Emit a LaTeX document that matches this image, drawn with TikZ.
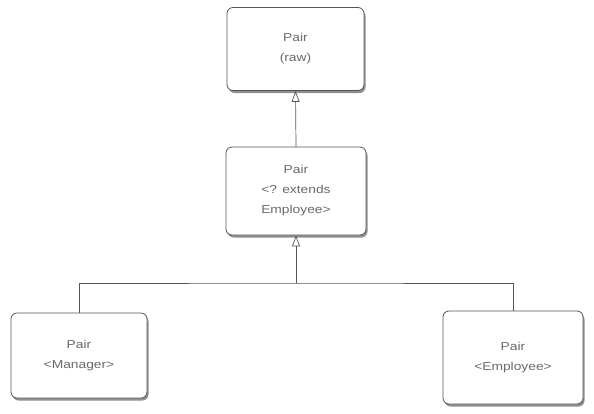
\documentclass[tikz,border=0pt]{standalone}
\usepackage{fontspec}
\setmainfont{Liberation Sans}[FakeStretch=1.2]
\usetikzlibrary{arrows.meta,shadows}
\definecolor{txt}{HTML}{6A6A6A}
\definecolor{ln}{HTML}{555555}
\begin{document}
\begin{tikzpicture}[x=1pt,y=-1pt,
  box/.style={draw=ln, line width=0.8pt, fill=white, rounded corners=6pt,
    drop shadow={shadow xshift=1.5pt, shadow yshift=-2.5pt, fill=black!55, opacity=0.8},
    align=center, text=txt, font=\fontsize{11.5}{20}\selectfont, inner sep=0pt},
  conn/.style={draw=ln, line width=0.7pt},
  inh/.style={conn, -{Triangle[open, width=8pt, length=11pt]}}]
\useasboundingbox (0,0) rectangle (594,413);
\node[box, minimum width=137pt, minimum height=83pt] (raw) at (295.5,49) {Pair\\(raw)};
\node[box, minimum width=140pt, minimum height=88pt] (ext) at (296,191) {Pair\\<? extends\\Employee>};
\node[box, minimum width=136pt, minimum height=85pt] (man) at (79,355.5) {Pair\\<Manager>};
\node[box, minimum width=140pt, minimum height=93pt] (emp) at (513,357.5) {Pair\\<Employee>};
\coordinate (j) at (296,283);
\draw[inh] (ext.north) -- (raw.south);
\draw[inh] (j) -- (ext.south);
\draw[conn] (man.north) |- (j) -| (emp.north);
\end{tikzpicture}
\end{document}
